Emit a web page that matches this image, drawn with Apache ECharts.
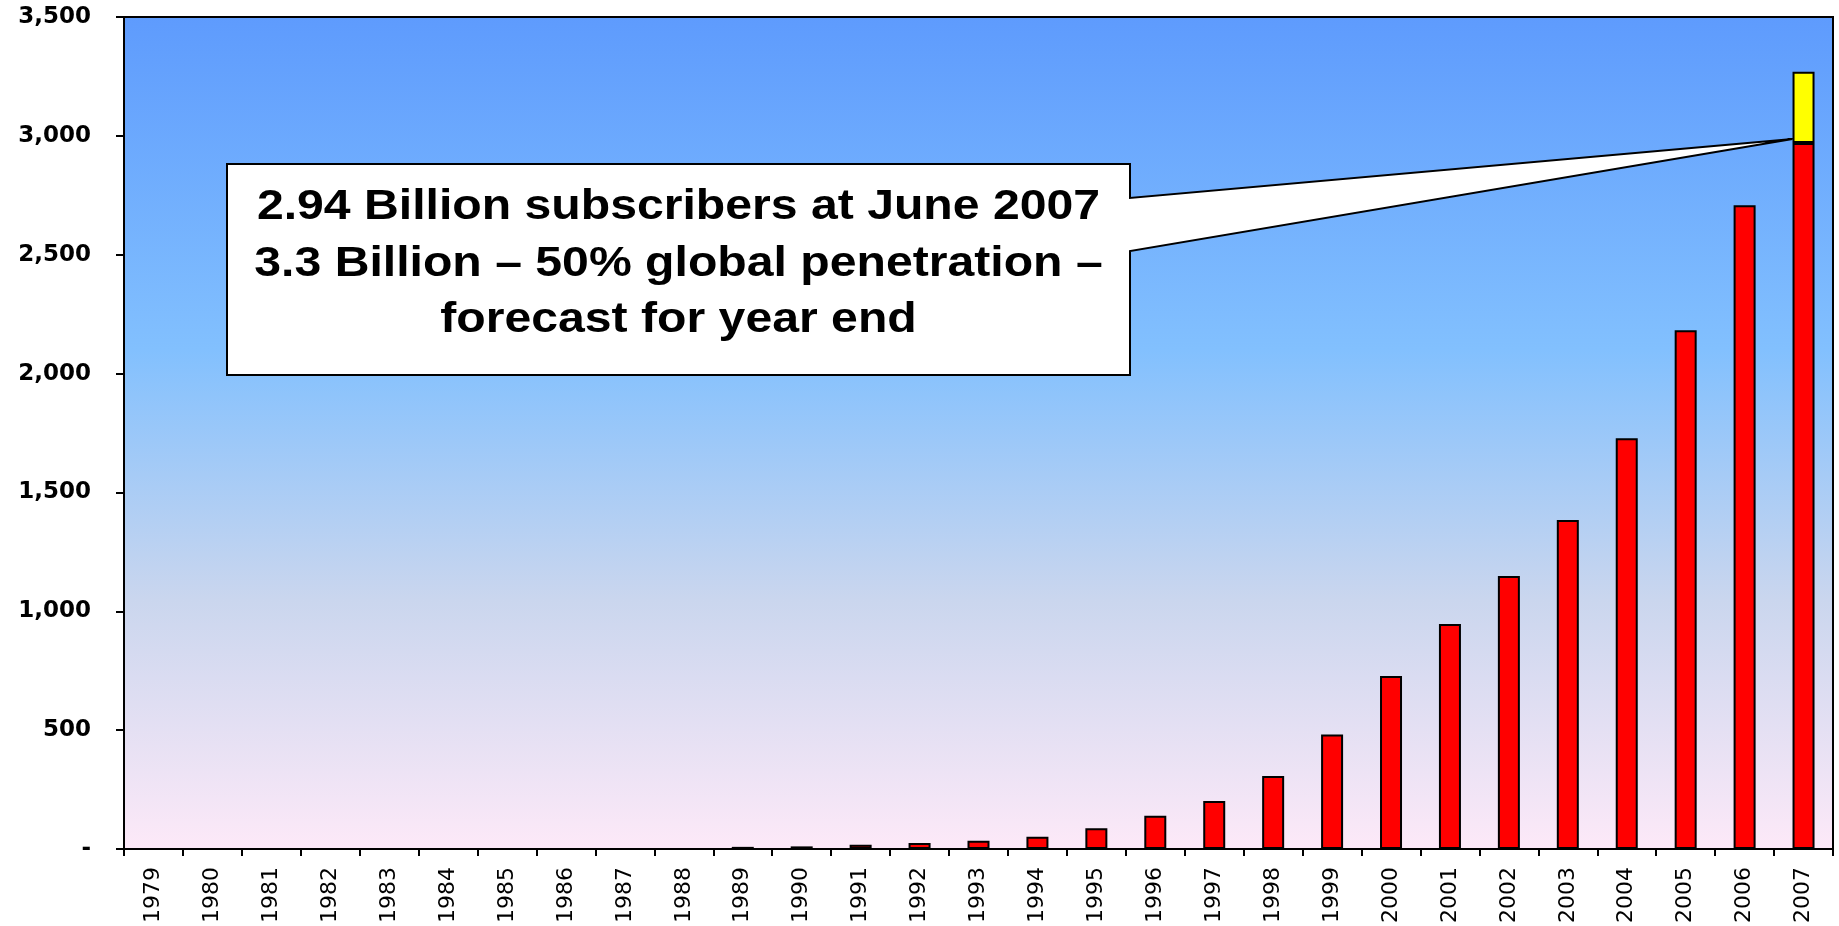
<!DOCTYPE html>
<html>
<head>
<meta charset="utf-8">
<script src="https://cdn.jsdelivr.net/npm/echarts@6/dist/echarts.min.js"></script>
<style>
  html, body { margin: 0; padding: 0; background: #ffffff; }
  #chart { width: 1839px; height: 926px; }
</style>
</head>
<body>
<div id="chart"></div>
<script>
// ---- data ----
const years = ['1979','1980','1981','1982','1983','1984','1985','1986','1987','1988',
               '1989','1990','1991','1992','1993','1994','1995','1996','1997','1998',
               '1999','2000','2001','2002','2003','2004','2005','2006','2007'];
const subscribers = [0,0,0,0,0,0,0,0,0,0,
                     9,11,18,25,35,52,87,140,202,307,
                     482,728,946,1148,1384,1728,2182,2708,2970];
const forecastExtra = [null,null,null,null,null,null,null,null,null,null,
                       null,null,null,null,null,null,null,null,null,null,
                       null,null,null,null,null,null,null,null,300];
const yTicks = { min: 0, max: 3500, interval: 500 };
const calloutLines = [
  '2.94 Billion subscribers at June 2007',
  '3.3 Billion \u2013 50% global penetration \u2013',
  'forecast for year end'
];
const calloutYear = '2007';

// ---- chart ----
const chart = echarts.init(document.getElementById('chart'), null, { renderer: 'canvas' });
const BAR_W = 22;
const option = {
  animation: false,
  backgroundColor: '#ffffff',
  grid: {
    left: 124, right: 6, top: 17, bottom: 77,
    show: true,
    borderColor: '#000000',
    borderWidth: 2,
    backgroundColor: new echarts.graphic.LinearGradient(0, 0, 0, 1, [
      { offset: 0, color: '#5e9bfd' },
      { offset: 0.4, color: '#82c0fe' },
      { offset: 0.7, color: '#cad6ee' },
      { offset: 1, color: '#fde9f8' }
    ])
  },
  xAxis: {
    type: 'category',
    data: years,
    boundaryGap: true,
    axisLine: { lineStyle: { color: '#000000', width: 2 } },
    axisTick: { show: true, length: 7, lineStyle: { color: '#000000', width: 2 } },
    axisLabel: {
      rotate: 90,
      margin: 18,
      color: '#000000',
      fontFamily: 'DejaVu Sans',
      fontSize: 22,
      interval: 0
    },
    splitLine: { show: false }
  },
  yAxis: {
    type: 'value',
    min: yTicks.min, max: yTicks.max, interval: yTicks.interval,
    axisLine: { show: true, lineStyle: { color: '#000000', width: 2 } },
    axisTick: { show: true, length: 8, lineStyle: { color: '#000000', width: 2 } },
    axisLabel: {
      margin: 33,
      color: '#000000',
      fontFamily: 'DejaVu Sans',
      fontWeight: 'bold',
      fontSize: 23,
      formatter: function (v) { return v === 0 ? '-' : v.toLocaleString('en-US'); }
    },
    splitLine: { show: false }
  },
  series: [
    {
      name: 'Subscribers',
      type: 'bar',
      stack: 'total',
      data: subscribers,
      barWidth: BAR_W,
      itemStyle: { color: '#ff0000', borderColor: '#000000', borderWidth: 2 }
    },
    {
      name: 'Forecast',
      type: 'bar',
      stack: 'total',
      data: forecastExtra,
      barWidth: BAR_W,
      itemStyle: { color: '#ffff00', borderColor: '#000000', borderWidth: 2 }
    }
  ]
};
chart.setOption(option);

// ---- callout anchored to the 2007 bar ----
const idx = years.indexOf(calloutYear);
const tipPt = chart.convertToPixel({ xAxisIndex: 0, yAxisIndex: 0 }, [calloutYear, subscribers[idx]]);
const tipX = tipPt[0] - BAR_W / 2;
const tipY = tipPt[1] - 4;
const box = { x1: 227, y1: 164, x2: 1130, y2: 375 };
const wedgeTop = 198, wedgeBot = 251;
const cx = (box.x1 + box.x2) / 2;
const lineY = [207, 264, 320];
const textEls = calloutLines.map(function (t, i) {
  return {
    type: 'text',
    x: cx, y: lineY[i],
    scaleX: 1.12,
    z: 101,
    style: {
      text: t,
      fill: '#000000',
      font: 'bold 43px "Liberation Sans", Arial, sans-serif',
      textAlign: 'center',
      textVerticalAlign: 'middle'
    }
  };
});
chart.setOption({
  graphic: [
    {
      type: 'polygon',
      z: 100,
      shape: {
        points: [
          [box.x1, box.y1], [box.x2, box.y1], [box.x2, wedgeTop],
          [tipX, tipY], [box.x2, wedgeBot], [box.x2, box.y2], [box.x1, box.y2]
        ]
      },
      style: { fill: '#ffffff', stroke: '#000000', lineWidth: 2 }
    }
  ].concat(textEls)
});
</script>
</body>
</html>
